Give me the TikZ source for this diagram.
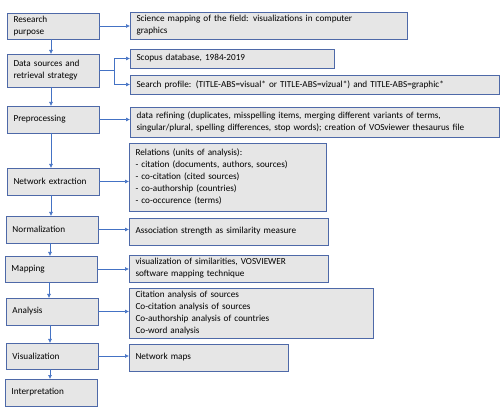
\documentclass[tikz,border=0pt]{standalone}
\usepackage{fontspec}
\setmainfont{Carlito}
\usetikzlibrary{arrows.meta}
\definecolor{boxline}{RGB}{78,105,168}
\definecolor{boxfill}{RGB}{230,230,230}
\definecolor{arrline}{RGB}{68,114,196}
\tikzset{
  stepbox/.style={draw=boxline,fill=boxfill,line width=0.9pt,anchor=north west,align=left,
    inner xsep=6.5pt,inner ysep=1pt,outer sep=0pt,font=\fontsize{9.2}{12}\selectfont},
  lbox/.style={stepbox,minimum width=92pt,text width=79pt},
  arr/.style={draw=arrline,line width=0.6pt,-{Latex[length=4pt,width=4pt]}}
}
\begin{document}
\begin{tikzpicture}[x=1pt,y=-1pt]
	\useasboundingbox (0,0) rectangle (503,419);
	% steps on the left
	\node[lbox,minimum height=26pt] (rp) at (7,13) {Research\\purpose};
	\node[lbox,minimum height=33pt] (ds) at (7,54) {Data sources and\\retrieval strategy};
	\node[lbox,minimum height=27pt] (pp) at (7,106) {Preprocessing};
	\node[lbox,minimum height=27pt] (ne) at (7,168) {Network extraction};
	\node[lbox,minimum height=27pt] (nm) at (6,216) {Normalization};
	\node[lbox,minimum height=26pt] (mp) at (5,256) {Mapping};
	\node[lbox,minimum height=27pt] (an) at (6,298) {Analysis};
	\node[lbox,minimum height=26pt] (vi) at (6,343) {Visualization};
	\node[lbox,minimum height=27pt] (ip) at (5,379) {Interpretation};
	% details on the right
	\node[stepbox,minimum width=277pt,text width=264pt,minimum height=27pt] (sm) at (130,12) {Science mapping of the field: visualizations in computer\\graphics};
	\node[stepbox,minimum width=204pt,text width=191pt,minimum height=19pt] (sc) at (130,49) {Scopus database, 1984-2019};
	\node[stepbox,minimum width=369pt,text width=356pt,minimum height=19pt] (sp) at (130,75) {Search profile: (TITLE-ABS=visual* or TITLE-ABS=vizual*) and TITLE-ABS=graphic*};
	\node[stepbox,minimum width=369pt,text width=356pt,minimum height=30pt] (dr) at (130,107) {data refining (duplicates, misspelling items, merging different variants of terms,\\singular/plural, spelling differences, stop words); creation of VOSviewer thesaurus file};
	\node[stepbox,minimum width=197pt,text width=184pt,minimum height=68pt] (rl) at (129,143) {Relations (units of analysis):\\- citation (documents, authors, sources)\\- co-citation (cited sources)\\- co-authorship (countries)\\- co-occurence (terms)};
	\node[stepbox,minimum width=199pt,text width=186pt,minimum height=27pt] (as) at (129,218) {Association strength as similarity measure};
	\node[stepbox,minimum width=199pt,text width=186pt,minimum height=27pt] (vs) at (129,255) {visualization of similarities, VOSVIEWER\\software mapping technique};
	\node[stepbox,minimum width=244pt,text width=231pt,minimum height=50pt] (ca) at (129,288) {Citation analysis of sources\\Co-citation analysis of sources\\Co-authorship analysis of countries\\Co-word analysis};
	\node[stepbox,minimum width=159pt,text width=146pt,minimum height=27pt] (nw) at (129,344) {Network maps};
	% flow downwards
	\foreach \a/\b in {rp/ds,ds/pp,pp/ne,ne/nm,nm/mp,mp/an,an/vi,vi/ip}
		\draw[arr] ([xshift=-2pt]\a.south) -- ([xshift=-2pt]\a.south |- \b.north);
	% links to the right
	\foreach \a/\b in {rp/sm,pp/dr,ne/rl,nm/as,mp/vs,an/ca,vi/nw}
		\draw[arr] (\a.east) -- (\a.east -| \b.west);
	\draw[draw=arrline,line width=0.6pt] (ds.east) -- ++(15,0) coordinate (br);
	\draw[arr] (br) |- (sc.west);
	\draw[arr] (br) |- (sp.west);
\end{tikzpicture}
\end{document}
